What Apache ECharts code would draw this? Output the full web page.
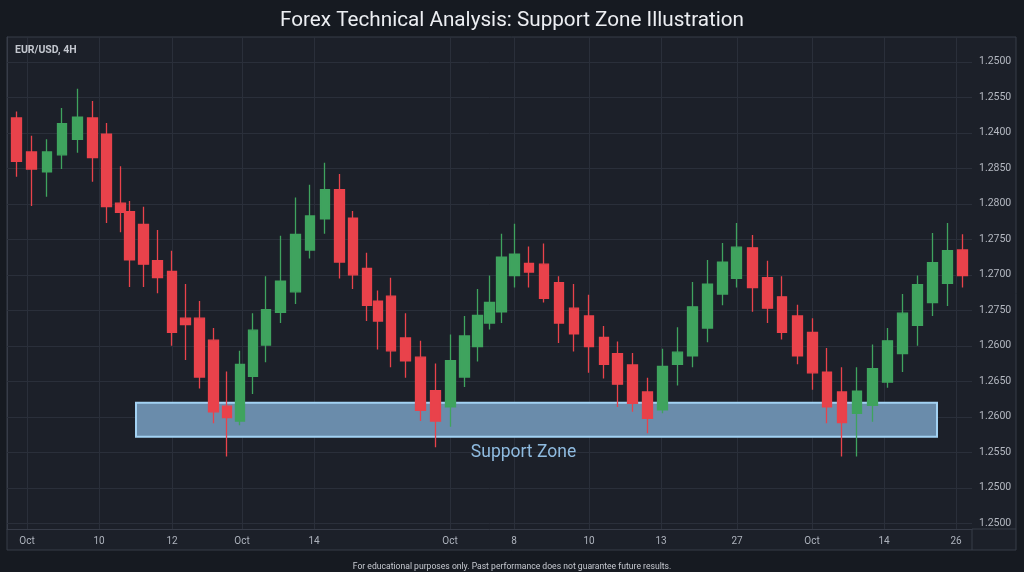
<!DOCTYPE html>
<html>
<head>
<meta charset="utf-8">
<script src="https://cdn.jsdelivr.net/npm/echarts@6/dist/echarts.min.js"></script>
<style>
html,body{margin:0;padding:0;background:#161a21;}
#chart{width:1024px;height:572px;}
</style>
</head>
<body>
<div id="chart"></div>
<script>
// time position of each 4H bar along the axis
var barTime = [9.3,24.7,40,55,70.3,85.3,99.7,113.7,122.7,136.3,150.7,165,178.7,192.7,206.3,220,233,246,259,273.7,
  288.3,303,318,332.3,346,360,371,384,398.7,413.7,428.7,443.3,457.3,470.3,482.3,494.7,507.3,522,537,552,
  567,582,597,610.7,625.3,640.3,655.3,670.3,685.7,700.3,715.7,729.7,745.3,760.3,775,790.3,805.3,820,835,850,
  865.3,880.3,895.3,910.3,925.3,940.3,955.7];
var openP = [1.3021,1.2973,1.2945,1.2969,1.2991,1.3021,1.2998,1.2901,1.2889,1.2871,1.2820,1.2805,1.2739,1.2739,1.2708,1.2615,1.2594,1.2657,1.2701,1.2747,
  1.2776,1.2835,1.2879,1.2920,1.2880,1.2809,1.2763,1.2770,1.2711,1.2684,1.2637,1.2614,1.2656,1.2699,1.2732,1.2748,1.2799,1.2816,1.2815,1.2789,
  1.2753,1.2742,1.2712,1.2689,1.2673,1.2635,1.2610,1.2674,1.2686,1.2725,1.2773,1.2795,1.2838,1.2796,1.2769,1.2742,1.2719,1.2663,1.2635,1.2605,
  1.2616,1.2649,1.2689,1.2729,1.2761,1.2788,1.2835];
var closeP = [1.2960,1.2949,1.2973,1.3013,1.3022,1.2965,1.2896,1.2888,1.2821,1.2815,1.2796,1.2719,1.2730,1.2656,1.2607,1.2599,1.2674,1.2722,1.2751,1.2791,
  1.2857,1.2883,1.2920,1.2818,1.2800,1.2757,1.2735,1.2693,1.2679,1.2609,1.2594,1.2679,1.2714,1.2743,1.2761,1.2825,1.2829,1.2804,1.2767,1.2732,
  1.2717,1.2699,1.2674,1.2646,1.2619,1.2598,1.2671,1.2691,1.2755,1.2787,1.2818,1.2839,1.2782,1.2753,1.2719,1.2686,1.2662,1.2614,1.2592,1.2636,
  1.2668,1.2707,1.2746,1.2786,1.2817,1.2834,1.2799];
var lowP = [1.2938,1.2897,1.2910,1.2949,1.2972,1.2931,1.2873,1.2860,1.2783,1.2783,1.2774,1.2700,1.2680,1.2640,1.2591,1.2544,1.2588,1.2632,1.2677,1.2732,
  1.2759,1.2823,1.2858,1.2795,1.2780,1.2735,1.2695,1.2670,1.2655,1.2594,1.2557,1.2586,1.2642,1.2678,1.2723,1.2732,1.2782,1.2782,1.2761,1.2704,
  1.2692,1.2662,1.2654,1.2614,1.2607,1.2577,1.2605,1.2644,1.2670,1.2705,1.2757,1.2782,1.2748,1.2732,1.2709,1.2674,1.2638,1.2591,1.2544,1.2544,
  1.2593,1.2641,1.2663,1.2700,1.2742,1.2756,1.2782];
var highP = [1.3030,1.2996,1.2991,1.3035,1.3062,1.3045,1.3014,1.2953,1.2904,1.2896,1.2863,1.2834,1.2787,1.2763,1.2725,1.2664,1.2693,1.2746,1.2798,1.2855,
  1.2909,1.2927,1.2958,1.2942,1.2890,1.2831,1.2778,1.2796,1.2746,1.2707,1.2675,1.2716,1.2742,1.2780,1.2799,1.2858,1.2872,1.2840,1.2844,1.2798,
  1.2787,1.2772,1.2728,1.2706,1.2690,1.2655,1.2696,1.2726,1.2790,1.2821,1.2845,1.2873,1.2856,1.2820,1.2798,1.2758,1.2739,1.2697,1.2670,1.2670,
  1.2702,1.2725,1.2773,1.2799,1.2859,1.2873,1.2857];

// x-axis tick positions and labels
var xTickPos = [20,92,165,235,307,443,507,582,654,730,805,877,949];
var xTickLabels = ['Oct','10','12','Oct','14','Oct','8','10','13','27','Oct','14','26'];

// y-axis tick values (bottom to top) and the labels printed at them
var yTickVals = [1.245,1.250,1.255,1.260,1.265,1.270,1.275,1.280,1.285,1.290,1.295,1.300,1.305,1.310];
var yTickLabels = ['1.2500','1.2500','1.2550','1.2600','1.2650','1.2600','1.2750','1.2700','1.2750','1.2800','1.2850','1.2400','1.2550','1.2500'];

// support zone: [timeStart, timeEnd], [priceLow, priceHigh]
var zoneTime = [129, 930];
var zonePrice = [1.2572, 1.2620];

var candles = barTime.map(function (t, i) {
  return [t, openP[i], closeP[i], lowP[i], highP[i]];
});

var chart = echarts.init(document.getElementById('chart'));
var gridColor = '#2a2f3a';
var frameColor = '#373c48';
var font = 'Roboto';

chart.setOption({
  backgroundColor: '#161a21',
  animation: false,
  textStyle: { fontFamily: font },
  title: [
    { text: 'Forex Technical Analysis: Support Zone Illustration', left: 'center', top: 5,
      textStyle: { color: '#eceef2', fontSize: 20.7, fontWeight: 'normal', fontFamily: font } },
    { text: 'EUR/USD, 4H', left: 15, top: 45, padding: 0,
      textStyle: { color: '#c3c7cf', fontSize: 10.5, fontWeight: 'bold', fontFamily: font } },
    { text: 'For educational purposes only. Past performance does not guarantee future results.', left: 'center', top: 557,
      textStyle: { color: '#c8cbd2', fontSize: 8.6, fontWeight: 'normal', fontFamily: font } }
  ],
  graphic: [
    { type: 'rect', z: -10, shape: { x: 7, y: 37, width: 1009, height: 513 },
      style: { fill: '#1c2029', stroke: frameColor, lineWidth: 1 } },
    { type: 'line', z: 5, shape: { x1: 972, y1: 529, x2: 1016, y2: 529 }, style: { stroke: frameColor, lineWidth: 1 } },
    { type: 'line', z: 5, shape: { x1: 972, y1: 529, x2: 972, y2: 550 }, style: { stroke: frameColor, lineWidth: 1 } }
  ],
  grid: { left: 7, right: 52, top: 37, bottom: 43 },
  xAxis: {
    type: 'value', min: 0, max: 965,
    axisLine: { show: true, lineStyle: { color: frameColor } },
    axisTick: { show: false, customValues: xTickPos },
    axisLabel: {
      customValues: xTickPos, color: '#aeb3bd', fontSize: 10, margin: 7, fontFamily: font,
      formatter: function (v) {
        for (var i = 0; i < xTickPos.length; i++) { if (Math.abs(xTickPos[i] - v) < 0.01) return xTickLabels[i]; }
        return '';
      }
    },
    splitLine: { show: true, lineStyle: { color: gridColor, width: 1 } }
  },
  yAxis: {
    type: 'value', position: 'right', min: 1.2442, max: 1.3135, scale: true,
    axisLine: { show: true, lineStyle: { color: frameColor } },
    axisTick: { show: true, length: 4, customValues: yTickVals, lineStyle: { color: gridColor } },
    axisLabel: {
      customValues: yTickVals, color: '#b4b8c1', fontSize: 10.5, margin: 7, fontFamily: font,
      formatter: function (v) {
        var k = Math.round((v - 1.245) / 0.005);
        return yTickLabels[k] || '';
      }
    },
    splitLine: { show: true, lineStyle: { color: gridColor, width: 1 } }
  },
  series: [{
    type: 'candlestick',
    data: candles,
    barWidth: 10,
    z: 3,
    itemStyle: {
      color: '#3fa35e', color0: '#e9424b',
      borderColor: '#3fa35e', borderColor0: '#e9424b', borderWidth: 1.3
    },
    markArea: {
      silent: true,
      z: 1,
      itemStyle: { color: '#6a8cab', borderColor: '#a3d2f3', borderWidth: 2 },
      label: { show: true, position: 'bottom', distance: 6, offset: [-13, 0],
        color: '#8fbbe0', fontSize: 17.5, fontFamily: font },
      data: [[
        { name: 'Support Zone', xAxis: zoneTime[0], yAxis: zonePrice[1] },
        { xAxis: zoneTime[1], yAxis: zonePrice[0] }
      ]]
    }
  }]
});
</script>
</body>
</html>
